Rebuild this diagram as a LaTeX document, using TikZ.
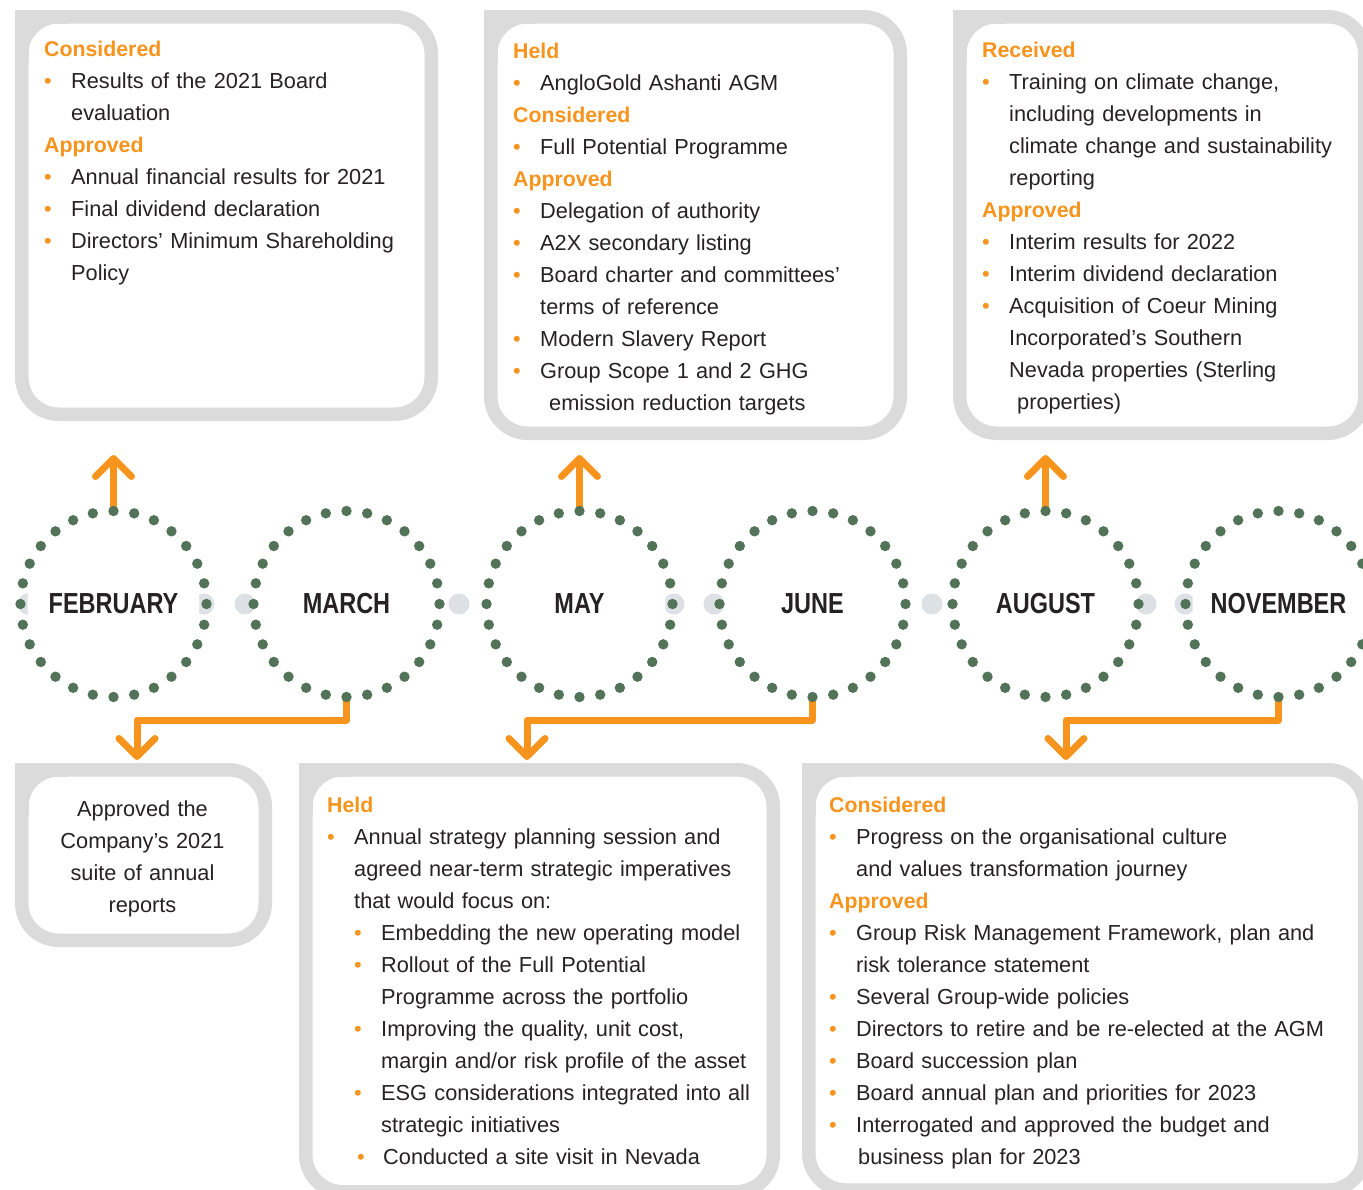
\documentclass[tikz,border=0pt]{standalone}
\usepackage{fontspec}
\setmainfont{Liberation Sans}
\newfontfamily\monthfont[FakeStretch=0.81]{Liberation Sans}
\usetikzlibrary{arrows.meta,calc}
\definecolor{org}{RGB}{247,148,29}
\definecolor{dotgreen}{RGB}{82,115,88}
\definecolor{boxgray}{RGB}{219,219,219}
\definecolor{linkgray}{RGB}{221,224,228}
\definecolor{txt}{RGB}{38,34,35}
\newcommand\hd[1]{\noindent{\color{org}\fontsize{21.3}{32}\selectfont\bfseries #1}\par}
\newcommand\bul{\textcolor{org}{•}}
\newcommand\bi[1]{\hangindent=27pt\hangafter=1\noindent\makebox[27pt][l]{\bul}#1\par}
\newcommand\sbi[1]{\hangindent=54pt\hangafter=1\noindent\hspace*{27pt}\makebox[27pt][l]{\bul}#1\par}
\newcommand\gbox[4]{%
  \draw[boxline, rounded corners=37pt] (#1,#2) rectangle (#3,#4);
  \draw[boxline, line join=miter] (#1,#2+45) -- (#1,#2) -- (#1+45,#2);
}
\begin{document}
\begin{tikzpicture}[x=1pt,y=-1pt,
  boxline/.style={draw=boxgray, line width=13.5pt},
  boxtext/.style={anchor=base west, inner sep=0pt, text width=520pt, align=left,
    font=\fontsize{21.75}{32}\selectfont, text=txt},
  month/.style={circle, fill=white, minimum size=172pt, inner sep=0pt, outer sep=7pt,
    font=\monthfont\bfseries\fontsize{29}{29}\selectfont, text=txt},
  arrowline/.style={draw=org, line width=7pt, line join=round,
    -{Straight Barb[length=18pt,width=36pt,round]}},
  linkdot/.style={fill=linkgray},
  greendot/.style={fill=dotgreen}
]
\useasboundingbox (0,0) rectangle (1363,1189);
\clip (0,0) rectangle (1363,1189);
\fill[white] (0,0) rectangle (1363,1189);

% boxes
\gbox{21.75}{16.75}{431.25}{414.25}
\gbox{490.75}{16.75}{900.25}{433.25}
\gbox{959.75}{16.75}{1364.75}{433.25}
\gbox{21.75}{769.75}{265.25}{940.25}
\gbox{305.75}{769.75}{773.25}{1191.75}
\gbox{808.75}{769.75}{1364.75}{1190}

% box texts
\node[boxtext] (t1) at (44,56) {%
\hd{Considered}
\bi{Results of the 2021 Board\newline evaluation}
\hd{Approved}
\bi{Annual financial results for 2021}
\bi{Final dividend declaration}
\bi{Directors’ Minimum Shareholding\newline Policy}};

\node[boxtext] (t2) at (513,58) {%
\hd{Held}
\bi{AngloGold Ashanti AGM}
\hd{Considered}
\bi{Full Potential Programme}
\hd{Approved}
\bi{Delegation of authority}
\bi{A2X secondary listing}
\bi{Board charter and committees’\newline terms of reference}
\bi{Modern Slavery Report}
\bi{Group Scope 1 and 2 GHG\newline\hspace*{9pt}emission reduction targets}};

\node[boxtext] (t3) at (982,57) {%
\hd{Received}
\bi{Training on climate change,\newline including developments in\newline climate change and sustainability\newline reporting}
\hd{Approved}
\bi{Interim results for 2022}
\bi{Interim dividend declaration}
\bi{Acquisition of Coeur Mining\newline Incorporated’s Southern\newline Nevada properties (Sterling\newline\hspace*{8pt}properties)}};

\node[anchor=base, inner sep=0pt, text width=240pt, align=center,
  font=\fontsize{21.75}{32}\selectfont, text=txt] (t4) at (142.5,816)
  {Approved the\\Company’s 2021\\suite of annual\\reports};

\node[boxtext] (t5) at (327,812) {%
\hd{Held}
\bi{Annual strategy planning session and\newline agreed near-term strategic imperatives\newline that would focus on:}
\sbi{Embedding the new operating model}
\sbi{Rollout of the Full Potential\newline Programme across the portfolio}
\sbi{Improving the quality, unit cost,\newline margin and/or risk profile of the asset}
\sbi{ESG considerations integrated into all\newline strategic initiatives}
\noindent\hspace*{30pt}\makebox[26pt][l]{\bul}Conducted a site visit in Nevada\par};

\node[boxtext] (t6) at (829,812) {%
\hd{Considered}
\bi{Progress on the organisational culture\newline and values transformation journey}
\hd{Approved}
\bi{Group Risk Management Framework, plan and\newline risk tolerance statement}
\bi{Several Group-wide policies}
\bi{Directors to retire and be re-elected at the AGM}
\bi{Board succession plan}
\bi{Board annual plan and priorities for 2023}
\bi{Interrogated and approved the budget and\newline\hspace*{2pt}business plan for 2023}};

% grey link dots
\foreach \x in {28,204,245,459,674,714,932,1146,1185}
  \fill[linkdot] (\x,604) circle[radius=10.5pt];

% month circles
\node[month] (feb) at (113.5,604) {FEBRUARY};
\node[month] (mar) at (346.5,604) {MARCH};
\node[month] (may) at (579.5,604) {MAY};
\node[month] (jun) at (812.5,604) {JUNE};
\node[month] (aug) at (1045.5,604) {AUGUST};
\node[month] (nov) at (1278.5,604) {NOVEMBER};

% arrow ends
\coordinate (febup) at (113.5,455);
\coordinate (mayup) at (579.5,455);
\coordinate (augup) at (1045.5,455);
\coordinate (marend) at (137,760);
\coordinate (junend) at (527,760);
\coordinate (novend) at (1066,760);

\draw[arrowline] (feb.north) -- (febup);
\draw[arrowline] (may.north) -- (mayup);
\draw[arrowline] (aug.north) -- (augup);
\draw[arrowline] (mar.south) -- ++(0,23) -| (marend);
\draw[arrowline] (jun.south) -- ++(0,23) -| (junend);
\draw[arrowline] (nov.south) -- ++(0,23) -| (novend);

% dotted rings
\foreach \c in {feb,mar,may,jun,aug,nov}
  \foreach \i in {0,...,27}
    \fill[greendot] ($(\c.center)+(\i*360/28:93)$) circle[radius=5.2pt];
\end{tikzpicture}
\end{document}
